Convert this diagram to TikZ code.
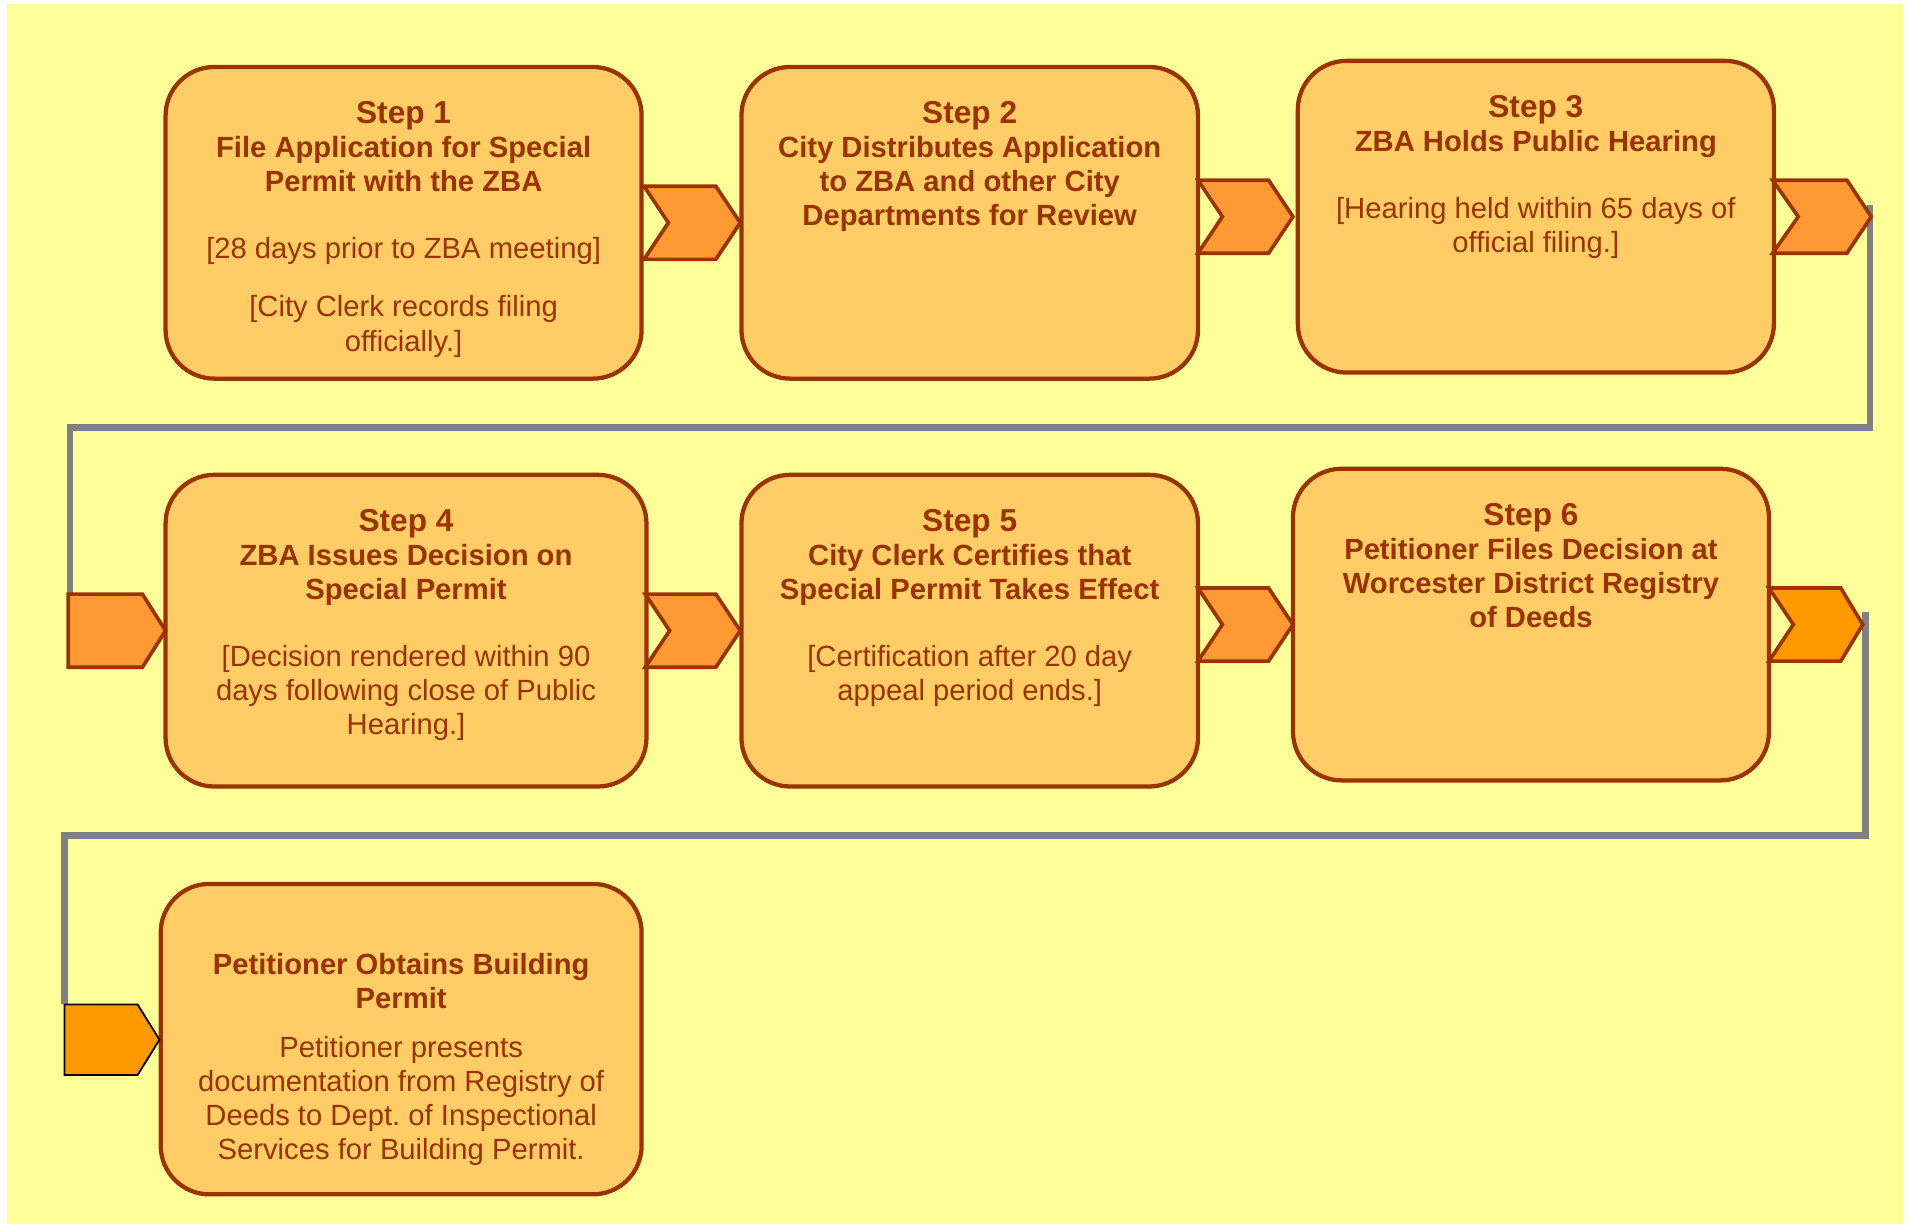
\documentclass[tikz,border=0pt]{standalone}
\usepackage{fontspec}
\setmainfont{Liberation Sans}
\usetikzlibrary{calc}
\frenchspacing

\definecolor{paper}{HTML}{FFFF99}
\definecolor{boxfill}{HTML}{FFCC66}
\definecolor{rust}{HTML}{993300}
\definecolor{arrowA}{HTML}{FF9933}
\definecolor{arrowB}{HTML}{FF9900}
\definecolor{wiregray}{HTML}{808080}

\tikzset{
  stepbox/.style={draw=rust, line width=3.5pt, fill=boxfill, rounded corners=40pt,
    inner sep=0pt, minimum height=256pt},
  steptext/.style={anchor=north, align=center, inner sep=0pt, text=rust,
    font=\fontsize{24pt}{28pt}\selectfont},
  chevA/.style={draw=rust, line width=3pt, fill=arrowA, line join=miter},
  chevB/.style={draw=rust, line width=3pt, fill=arrowB, line join=miter},
  tabB/.style={draw=black, line width=1.5pt, fill=arrowB, line join=miter},
  wire/.style={draw=wiregray, line width=5.5pt},
}
\newcommand{\stepno}[1]{{\fontsize{26pt}{29pt}\selectfont\bfseries #1}}

\begin{document}
\begin{tikzpicture}[x=1pt,y=-1pt]
\useasboundingbox (0,0) rectangle (1568,1007);
\fill[white] (0,0) rectangle (1568,1007);
\fill[paper] (6,3) rectangle (1563,1005);

% turn points of the two return wires
\coordinate (w1a) at (1536,168);
\coordinate (w1b) at (57.5,351);
\coordinate (w1c) at (57.5,488);
\coordinate (w2a) at (1532,503);
\coordinate (w2b) at (53,686);
\coordinate (w2c) at (53,825);
\draw[wire] (w1a) |- (w1b) -- (w1c);
\draw[wire] (w2a) |- (w2b) -- (w2c);

% step boxes
\node[stepbox, minimum width=391pt] (b1) at (331.5,183) {};
\node[stepbox, minimum width=375pt] (b2) at (796.5,183) {};
\node[stepbox, minimum width=391pt] (b3) at (1261.5,178) {};
\node[stepbox, minimum width=395pt] (b4) at (333.5,518) {};
\node[stepbox, minimum width=375pt] (b5) at (796.5,518) {};
\node[stepbox, minimum width=391pt] (b6) at (1257.5,513) {};
\node[stepbox, minimum width=395pt, minimum height=255pt] (b7) at (329.5,853.5) {};

% box texts
\node[steptext] (t1) at (331.5,83) {\stepno{Step 1}\\
  \textbf{File Application for Special}\\
  \textbf{Permit with the ZBA}\\[27pt]
  {[}28 days prior to ZBA meeting]\\[20pt]
  {[}City Clerk records filing\\
  officially.]};
\node[steptext] (t2) at (796.5,83) {\stepno{Step 2}\\
  \textbf{City Distributes Application}\\
  \textbf{to ZBA and other City}\\
  \textbf{Departments for Review}};
\node[steptext] (t3) at (1261.5,78) {\stepno{Step 3}\\
  \textbf{ZBA Holds Public Hearing}\\[27pt]
  {[}Hearing held within 65 days of\\
  official filing.]};
\node[steptext] (t4) at (333.5,418) {\stepno{Step 4}\\
  \textbf{ZBA Issues Decision on}\\
  \textbf{Special Permit}\\[27pt]
  {[}Decision rendered within 90\\
  days following close of Public\\
  Hearing.]};
\node[steptext] (t5) at (796.5,418) {\stepno{Step 5}\\
  \textbf{City Clerk Certifies that}\\
  \textbf{Special Permit Takes Effect}\\[27pt]
  {[}Certification after 20 day\\
  appeal period ends.]};
\node[steptext] (t6) at (1257.5,413) {\stepno{Step 6}\\
  \textbf{Petitioner Files Decision at}\\
  \textbf{Worcester District Registry}\\
  \textbf{of Deeds}};
\node[steptext] (t7) at (329.5,783) {\textbf{Petitioner Obtains Building}\\
  \textbf{Permit}\\[12pt]
  Petitioner presents\\
  documentation from Registry of\\
  Deeds to Dept. of Inspectional\\
  Services for Building Permit.};

% chevrons between boxes
\draw[chevA, shift={(529,183)}] (0,-30) -- (59,-30) -- (79,0) -- (59,30) -- (0,30) -- (20,0) -- cycle;
\draw[chevA, shift={(984,178)}] (0,-30) -- (58,-30) -- (78,0) -- (58,30) -- (0,30) -- (20,0) -- cycle;
\draw[chevA, shift={(1456,178)}] (0,-30) -- (61,-30) -- (81,0) -- (61,30) -- (0,30) -- (21,0) -- cycle;
\draw[chevA, shift={(56,518)}] (0,-30) -- (61,-30) -- (80,0) -- (61,30) -- (0,30) -- cycle;
\draw[chevA, shift={(530,518)}] (0,-30) -- (58,-30) -- (78,0) -- (58,30) -- (0,30) -- (20,0) -- cycle;
\draw[chevA, shift={(984,513)}] (0,-30) -- (58,-30) -- (78,0) -- (58,30) -- (0,30) -- (20,0) -- cycle;
\draw[chevB, shift={(1453,513)}] (0,-30) -- (59,-30) -- (77,0) -- (59,30) -- (0,30) -- (20,0) -- cycle;
\draw[tabB, shift={(53,854)}] (0,-29) -- (60,-29) -- (78,0) -- (60,29) -- (0,29) -- cycle;
\end{tikzpicture}
\end{document}
